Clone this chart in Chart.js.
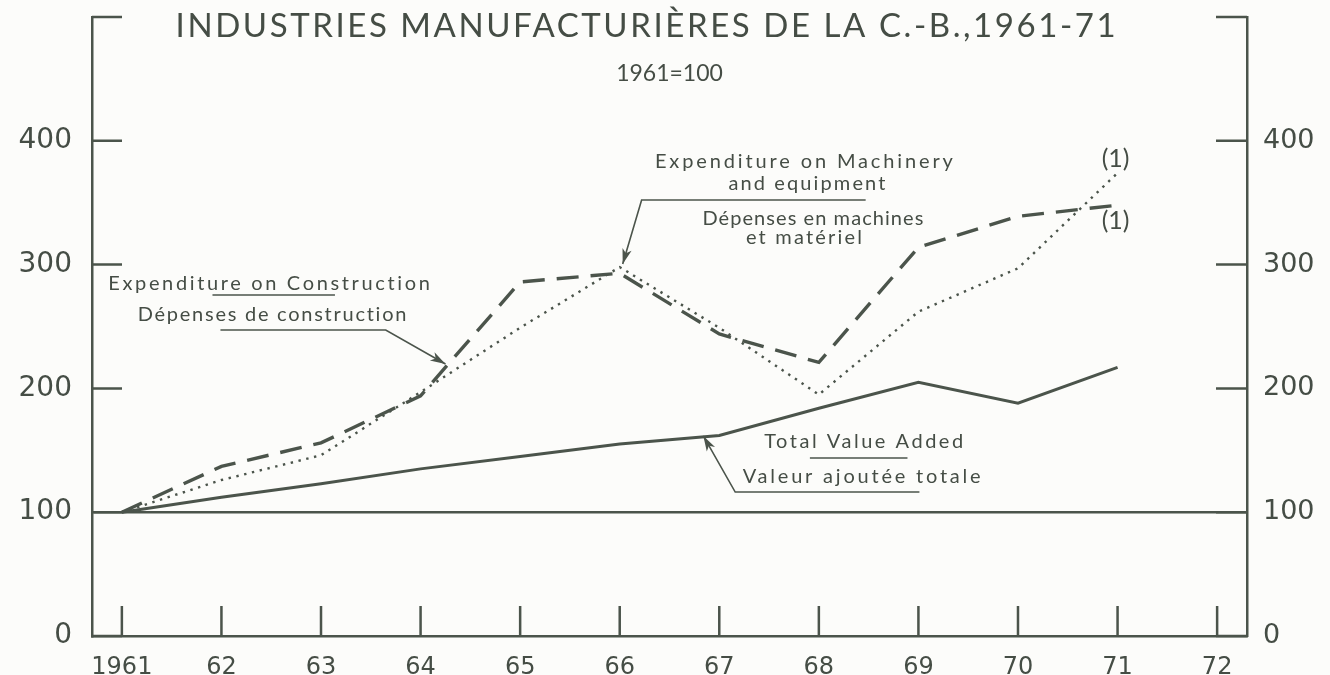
<!DOCTYPE html>
<html>
<head>
<meta charset="utf-8">
<title>Industries manufacturières de la C.-B., 1961-71</title>
<script src="https://cdn.jsdelivr.net/npm/chart.js@4.4.1/dist/chart.umd.min.js"></script>
<style>
  html, body { margin: 0; padding: 0; background: #fcfcfa; }
  #grafico { display: block; }
</style>
</head>
<body>
<canvas id="grafico" width="1330" height="675"></canvas>
<script>
// valeurs (1961 = 100)
const annees = [1961, 1962, 1963, 1964, 1965, 1966, 1967, 1968, 1969, 1970, 1971];
const valeurAjoutee = [100, 112, 123, 135, 145, 155, 162, 184, 205, 188, 217];
const depensesConstruction = [100, 137, 156, 194, 286, 293, 244, 221, 314, 339, 348];
const depensesMachines = [100, 126, 146, 197, 249, 298, 249, 195, 262, 297, 374];

const anneesTicks = [1961, 1962, 1963, 1964, 1965, 1966, 1967, 1968, 1969, 1970, 1971, 1972];
const etiquettesX = ['1961', '62', '63', '64', '65', '66', '67', '68', '69', '70', '71', '72'];
const valeursTicksY = [0, 100, 200, 300, 400, 500];
const etiquettesY = ['0', '100', '200', '300', '400', ''];

const encre = '#454d45';
const trait = '#4b544b';
const policeChiffres = '"DejaVu Sans", sans-serif';
const policeTexte = 'Lato, "Open Sans", sans-serif';

const points = (valeurs) => annees.map((a, i) => ({ x: a, y: valeurs[i] }));

// textes et renvois, places en unites du graphique
const textes = [
    { t: 'INDUSTRIES MANUFACTURIÈRES DE LA C.-B.,1961-71', x: 1966.26, y: 492.3, w: 940, taille: 33, poids: 400 },
    { t: '1961=100', x: 1966.5, y: 454, w: 100, taille: 23, poids: 400 },
    { t: 'Expenditure on Machinery', x: 1967.85, y: 382.9, w: 298, taille: 20 },
    { t: 'and equipment', x: 1967.88, y: 365.1, w: 157, taille: 20 },
    { t: 'Dépenses en machines', x: 1967.94, y: 337.6, w: 221, taille: 20 },
    { t: 'et matériel', x: 1967.85, y: 321.5, w: 116, taille: 20 },
    { t: 'Expenditure on Construction', x: 1962.48, y: 284.7, w: 322, taille: 20 },
    { t: 'Dépenses de construction', x: 1962.51, y: 259.7, w: 269, taille: 20 },
    { t: 'Total Value Added', x: 1968.45, y: 157.1, w: 199, taille: 20 },
    { t: 'Valeur ajoutée totale', x: 1968.43, y: 128.8, w: 238, taille: 20 },
    { t: '(1)', x: 1970.98, y: 385.7, w: 21, taille: 25 },
    { t: '(1)', x: 1970.98, y: 335.2, w: 21, taille: 25 }
];

const renvois = [
    // soulignés simples
    { pts: [[1961.91, 275.4], [1963.14, 275.4]] },
    { pts: [[1967.91, 143.8], [1968.89, 143.8]] },
    // lignes avec fleche
    { pts: [[1968.47, 352.2], [1966.22, 352.2], [1966.03, 300.5]], fleche: true },
    { pts: [[1961.99, 247.2], [1963.65, 247.2], [1964.25, 219.7]], fleche: true },
    { pts: [[1969.01, 116.3], [1967.16, 116.3], [1966.84, 161.6]], fleche: true }
];

function texteEspace(ctx, texte, cx, cy, largeur) {
    ctx.letterSpacing = '0px';
    const n = [...texte].length;
    const w = ctx.measureText(texte).width;
    let esp = n > 1 ? (largeur - w) / (n - 1) : 0;
    if (esp < 0) esp = 0;
    const reel = w + esp * (n - 1);
    ctx.letterSpacing = esp + 'px';
    ctx.textAlign = 'left';
    ctx.textBaseline = 'middle';
    ctx.fillText(texte, cx - reel / 2, cy);
    ctx.letterSpacing = '0px';
}

// pas de marge automatique autour des axes : la zone du graphique est fixee par les largeurs
function sansMarge(s) {
    s.paddingTop = 0;
    s.paddingBottom = 0;
    s.paddingLeft = 0;
    s.paddingRight = 0;
}

const cadre = {
    id: 'cadre',
    beforeDatasetsDraw(chart) {
        const { ctx, chartArea: ca, scales } = chart;
        ctx.save();
        ctx.strokeStyle = trait;
        ctx.lineWidth = 2.5;
        ctx.beginPath();
        scales.x.ticks.forEach(t => {
            const x = scales.x.getPixelForValue(t.value);
            ctx.moveTo(x, ca.bottom);
            ctx.lineTo(x, ca.bottom - 30);
        });
        scales.y.ticks.forEach(t => {
            const y = scales.y.getPixelForValue(t.value);
            ctx.moveTo(ca.left, y);
            ctx.lineTo(ca.left + 30, y);
            ctx.moveTo(ca.right, y);
            ctx.lineTo(ca.right - 31, y);
        });
        ctx.stroke();
        ctx.restore();
    },
    afterDraw(chart) {
        const { ctx, scales } = chart;
        const px = v => scales.x.getPixelForValue(v);
        const py = v => scales.y.getPixelForValue(v);
        ctx.save();
        ctx.fillStyle = encre;
        textes.forEach(e => {
            ctx.font = (e.poids || 400) + ' ' + e.taille + 'px ' + policeTexte;
            texteEspace(ctx, e.t, px(e.x), py(e.y), e.w);
        });
        ctx.strokeStyle = trait;
        ctx.lineWidth = 1.6;
        renvois.forEach(r => {
            const p = r.pts.map(([a, b]) => [px(a), py(b)]);
            ctx.beginPath();
            ctx.moveTo(p[0][0], p[0][1]);
            p.slice(1).forEach(q => ctx.lineTo(q[0], q[1]));
            ctx.stroke();
            if (r.fleche) {
                const [x1, y1] = p[p.length - 2];
                const [x2, y2] = p[p.length - 1];
                const ang = Math.atan2(y2 - y1, x2 - x1);
                const L = 16;
                ctx.beginPath();
                ctx.moveTo(x2, y2);
                ctx.lineTo(x2 - L * Math.cos(ang - 0.3), y2 - L * Math.sin(ang - 0.3));
                ctx.lineTo(x2 - L * 0.7 * Math.cos(ang), y2 - L * 0.7 * Math.sin(ang));
                ctx.lineTo(x2 - L * Math.cos(ang + 0.3), y2 - L * Math.sin(ang + 0.3));
                ctx.closePath();
                ctx.fillStyle = trait;
                ctx.fill();
            }
        });
        ctx.restore();
    }
};

const contexto = document.getElementById('grafico').getContext('2d');

const grafico = new Chart(contexto, {
    type: 'line',
    data: {
        datasets: [
            {
                label: 'Total Value Added / Valeur ajoutée totale',
                data: points(valeurAjoutee),
                borderColor: trait,
                borderWidth: 3,
                pointRadius: 0,
                tension: 0
            },
            {
                label: 'Expenditure on Construction / Dépenses de construction',
                data: points(depensesConstruction),
                borderColor: trait,
                borderWidth: 3.4,
                borderDash: [22, 12],
                pointRadius: 0,
                tension: 0
            },
            {
                label: 'Expenditure on Machinery and equipment / Dépenses en machines et matériel',
                data: points(depensesMachines),
                borderColor: trait,
                borderWidth: 2.4,
                borderDash: [2.4, 5.6],
                pointRadius: 0,
                tension: 0
            }
        ]
    },
    options: {
        responsive: false,
        animation: false,
        devicePixelRatio: 1,
        layout: { padding: { top: 17, left: 0, right: 0, bottom: 0 } },
        plugins: {
            legend: { display: false },
            tooltip: { enabled: false }
        },
        scales: {
            x: {
                type: 'linear',
                min: 1960.7,
                max: 1972.3,
                afterBuildTicks: (s) => { s.ticks = anneesTicks.map(v => ({ value: v })); },
                afterFit: (s) => { s.height = 39; sansMarge(s); },
                grid: { display: false, drawTicks: false },
                border: { display: true, color: trait, width: 2.5 },
                ticks: {
                    autoSkip: false,
                    maxRotation: 0,
                    padding: 17,
                    color: encre,
                    font: { family: policeChiffres, size: 24 },
                    callback: (v, i) => etiquettesX[i]
                }
            },
            y: {
                position: 'left',
                min: 0,
                max: 500,
                afterBuildTicks: (s) => { s.ticks = valeursTicksY.map(v => ({ value: v })); },
                afterFit: (s) => { s.width = 92; sansMarge(s); },
                grid: {
                    drawTicks: false,
                    lineWidth: 2.5,
                    color: (c) => c.tick && c.tick.value === 100 ? trait : 'rgba(0,0,0,0)'
                },
                border: { display: true, color: trait, width: 2.5 },
                ticks: {
                    padding: 20,
                    color: encre,
                    font: { family: policeChiffres, size: 28 },
                    callback: (v, i) => etiquettesY[i]
                }
            },
            y2: {
                position: 'right',
                min: 0,
                max: 500,
                afterBuildTicks: (s) => { s.ticks = valeursTicksY.map(v => ({ value: v })); },
                afterFit: (s) => { s.width = 83; sansMarge(s); },
                grid: { display: false, drawTicks: false },
                border: { display: true, color: trait, width: 2.5 },
                ticks: {
                    padding: 16,
                    color: encre,
                    font: { family: policeChiffres, size: 27 },
                    callback: (v, i) => etiquettesY[i]
                }
            }
        }
    },
    plugins: [cadre]
});
</script>
</body>
</html>
